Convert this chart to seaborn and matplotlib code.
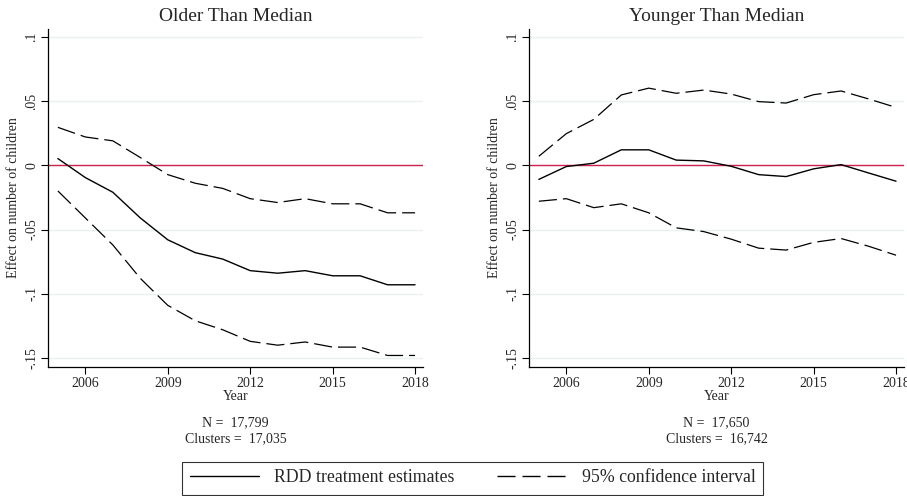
import numpy as np
import pandas as pd
import matplotlib
matplotlib.use("Agg")
import matplotlib.pyplot as plt
from matplotlib.lines import Line2D
import seaborn as sns

years = list(range(2005, 2019))

# Older than median
old_est = [0.0052, -0.0096, -0.021, -0.041, -0.058, -0.068, -0.073,
           -0.082, -0.084, -0.082, -0.086, -0.086, -0.093, -0.093]
old_hi = [0.0295, 0.022, 0.019, 0.006, -0.0073, -0.014, -0.018,
          -0.026, -0.029, -0.026, -0.030, -0.030, -0.037, -0.037]
old_lo = [-0.020, -0.041, -0.062, -0.088, -0.109, -0.121, -0.128,
          -0.137, -0.140, -0.1375, -0.1415, -0.1415, -0.148, -0.148]

# Younger than median
young_est = [-0.011, -0.001, 0.0016, 0.012, 0.012, 0.004, 0.0034,
             -0.0008, -0.0073, -0.0088, -0.0028, 0.0005, -0.006, -0.0124]
young_hi = [0.007, 0.0246, 0.0357, 0.0547, 0.060, 0.056, 0.0585,
            0.0554, 0.0495, 0.0484, 0.0549, 0.0578, 0.0516, 0.045]
young_lo = [-0.028, -0.026, -0.033, -0.030, -0.037, -0.0487, -0.0516,
            -0.0575, -0.0645, -0.066, -0.060, -0.057, -0.063, -0.070]

titles = ["Older Than Median", "Younger Than Median"]
n_obs = ["17,799", "17,650"]
n_clusters = ["17,035", "16,742"]
xticks = [2006, 2009, 2012, 2015, 2018]
yticks = [0.1, 0.05, 0, -0.05, -0.1, -0.15]
ytick_labels = [".1", ".05", "0", "-.05", "-.1", "-.15"]

sns.set_theme(style="white")
plt.rcParams["font.family"] = ["Liberation Serif", "DejaVu Serif"]

fig = plt.figure(figsize=(9.07, 4.96), dpi=100)
ax_l = fig.add_axes([0.0529, 0.26, 0.4135, 0.6815])
ax_r = fig.add_axes([0.5832, 0.26, 0.4135, 0.6815])

panels = [(ax_l, old_est, old_hi, old_lo), (ax_r, young_est, young_hi, young_lo)]
for i, (ax, est, hi, lo) in enumerate(panels):
    df = pd.DataFrame({"year": years, "est": est, "hi": hi, "lo": lo})
    for yv in yticks:
        ax.axhline(yv, color="#e8f0f2", lw=1.0, zorder=0)
    ax.axhline(0, color="#d02050", lw=1.0, zorder=1)
    sns.lineplot(data=df, x="year", y="est", ax=ax, color="black", lw=1.0, zorder=3)
    for col in ["hi", "lo"]:
        sns.lineplot(data=df, x="year", y=col, ax=ax, color="black", lw=0.9,
                     zorder=3).lines[-1].set_dashes((14.5, 4.8))
    ax.set_xlim(2004.64, 2018.29)
    ax.set_ylim(-0.157, 0.106)
    ax.set_xticks(xticks)
    ax.set_xticklabels([str(t) for t in xticks], fontsize=10)
    ax.set_yticks(yticks)
    ax.set_yticklabels(ytick_labels, fontsize=10, rotation=90, va="center")
    ax.tick_params(axis="both", direction="out", length=5, width=0.8,
                   color="black", pad=2, left=True, bottom=True)
    ax.set_xlabel("Year", fontsize=10, labelpad=0)
    ax.set_ylabel("Effect on number of children", fontsize=10, labelpad=4)
    ax.set_title(titles[i], fontsize=14, pad=6)
    for s in ["top", "right"]:
        ax.spines[s].set_visible(False)
    for s in ["left", "bottom"]:
        ax.spines[s].set_color("black")
        ax.spines[s].set_linewidth(0.9)
    bb = ax.get_position()
    cx = (bb.x0 + bb.x1) / 2
    fig.text(cx, 1 - 423 / 496, f"N =  {n_obs[i]}", ha="center", va="center", fontsize=10)
    fig.text(cx, 1 - 439 / 496, f"Clusters =  {n_clusters[i]}", ha="center", va="center", fontsize=10)

handles = [Line2D([], [], color="black", lw=1.0),
           Line2D([], [], color="black", lw=1.0, dashes=(13, 5))]
leg = fig.legend(handles, ["RDD treatment estimates", "95% confidence interval"],
                 loc="center", bbox_to_anchor=(0.521, 1 - 478 / 496), ncol=2,
                 fontsize=12.8, frameon=True, fancybox=False, edgecolor="black",
                 handlelength=3.9, handletextpad=0.85, columnspacing=2.4,
                 borderpad=0.45)
leg.get_frame().set_linewidth(0.8)

fig.savefig("out.png", dpi=100)
